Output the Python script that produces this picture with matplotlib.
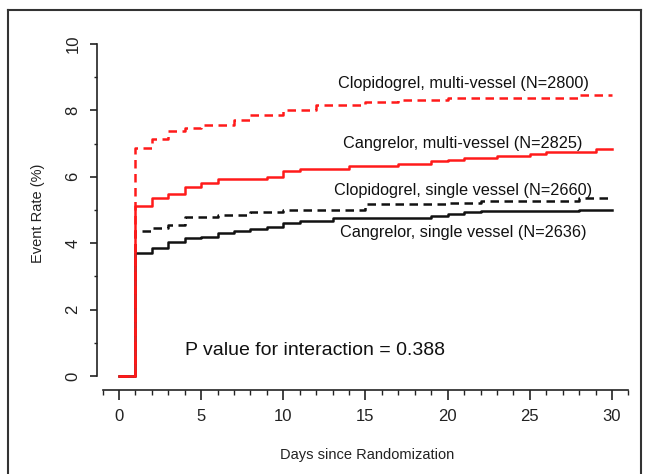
import matplotlib
matplotlib.use("Agg")
import matplotlib.pyplot as plt
from matplotlib.lines import Line2D
import numpy as np

plt.rcParams['font.family'] = ['Liberation Sans', 'DejaVu Sans']

# ---- data (days, event rate %) ----
clop_multi_days = [0, 1, 2, 3, 4, 5, 7, 8, 10, 12, 15, 17, 20, 28, 30]
clop_multi_rate = [0, 6.87, 7.13, 7.38, 7.47, 7.55, 7.70, 7.85, 8.00, 8.16, 8.26, 8.31, 8.36, 8.46, 8.46]

cang_multi_days = [0, 1, 2, 3, 4, 5, 6, 9, 10, 11, 14, 17, 19, 20, 21, 23, 25, 26, 29, 30]
cang_multi_rate = [0, 5.12, 5.37, 5.47, 5.68, 5.80, 5.93, 6.00, 6.18, 6.23, 6.32, 6.40, 6.47, 6.50, 6.57, 6.64, 6.70, 6.75, 6.85, 6.85]

clop_single_days = [0, 1, 2, 3, 4, 6, 8, 10, 15, 20, 22, 28, 30]
clop_single_rate = [0, 4.38, 4.45, 4.55, 4.78, 4.85, 4.95, 4.99, 5.17, 5.22, 5.26, 5.36, 5.36]

cang_single_days = [0, 1, 2, 3, 4, 5, 6, 7, 8, 9, 10, 11, 13, 19, 20, 21, 22, 28, 30]
cang_single_rate = [0, 3.72, 3.87, 4.03, 4.15, 4.20, 4.30, 4.37, 4.43, 4.50, 4.60, 4.67, 4.77, 4.83, 4.88, 4.93, 4.98, 5.00, 5.00]

labels = ["Clopidogrel, multi-vessel (N=2800)",
          "Cangrelor, multi-vessel (N=2825)",
          "Clopidogrel, single vessel (N=2660)",
          "Cangrelor, single vessel (N=2636)"]
p_text = "P value for interaction = 0.388"

x_major = [0, 5, 10, 15, 20, 25, 30]
y_major = [0, 2, 4, 6, 8, 10]

fig = plt.figure(figsize=(6.45, 4.74), dpi=100)
ax = fig.add_axes([0.1504, 0.1772, 0.8366, 0.7439])

red = '#ff1a1a'
blk = '#111111'
lw = 1.8
dash = (0, (3.4, 2.2))

ax.step(cang_single_days, cang_single_rate, where='post', color=blk, lw=lw)
ax.step(clop_single_days, clop_single_rate, where='post', color=blk, lw=lw, linestyle=dash)
ax.step(clop_multi_days, clop_multi_rate, where='post', color=red, lw=lw, linestyle=dash)
ax.step(cang_multi_days, cang_multi_rate, where='post', color=red, lw=lw)

ax.set_xlim(-1.34, 31.5)
ax.set_ylim(-0.42, 10.2)

for s in ['top', 'right']:
    ax.spines[s].set_visible(False)
ax.spines['left'].set_bounds(0, 10)
ax.spines['bottom'].set_bounds(-1, 31)
for s in ['left', 'bottom']:
    ax.spines[s].set_linewidth(1.2)
    ax.spines[s].set_color('#222222')

ax.set_xticks(x_major)
ax.set_xticks(np.arange(-1, 32, 1), minor=True)
ax.set_yticks(y_major)
ax.set_yticks(np.arange(0, 11, 1), minor=True)
ax.tick_params(axis='x', which='major', length=7, width=1.2, pad=7, labelsize=12, colors='#222222')
ax.tick_params(axis='x', which='minor', length=3.5, width=1.0, colors='#222222')
ax.tick_params(axis='y', which='major', length=5, width=1.2, pad=7, labelsize=12, colors='#222222')
ax.tick_params(axis='y', which='minor', length=2.5, width=1.0, colors='#222222')
for t in ax.get_yticklabels():
    t.set_rotation(90)
    t.set_va('center')

ax.set_xlabel("Days since Randomization", fontsize=10.5, labelpad=17, color='#222222')
ax.set_ylabel("Event Rate (%)", fontsize=10.5, labelpad=15, color='#222222')

tx = 20.94
fs = 11.7
ax.text(tx, 8.82, labels[0], ha='center', va='center', fontsize=fs, color='#111111')
ax.text(tx, 7.01, labels[1], ha='center', va='center', fontsize=fs, color='#111111')
ax.text(tx, 5.60, labels[2], ha='center', va='center', fontsize=fs, color='#111111')
ax.text(tx, 4.33, labels[3], ha='center', va='center', fontsize=fs, color='#111111')
ax.text(11.9, 0.78, p_text, ha='center', va='center', fontsize=14, color='#111111')

# outer frame
fc = '#333333'
y_top = 1 - 10 / 474
fig.add_artist(Line2D([8 / 645, 641 / 645], [y_top, y_top], transform=fig.transFigure, color=fc, lw=1.5))
fig.add_artist(Line2D([8 / 645, 8 / 645], [0, y_top], transform=fig.transFigure, color=fc, lw=1.5))
fig.add_artist(Line2D([641 / 645, 641 / 645], [0, y_top], transform=fig.transFigure, color=fc, lw=1.5))

fig.savefig("out.png", dpi=100)
